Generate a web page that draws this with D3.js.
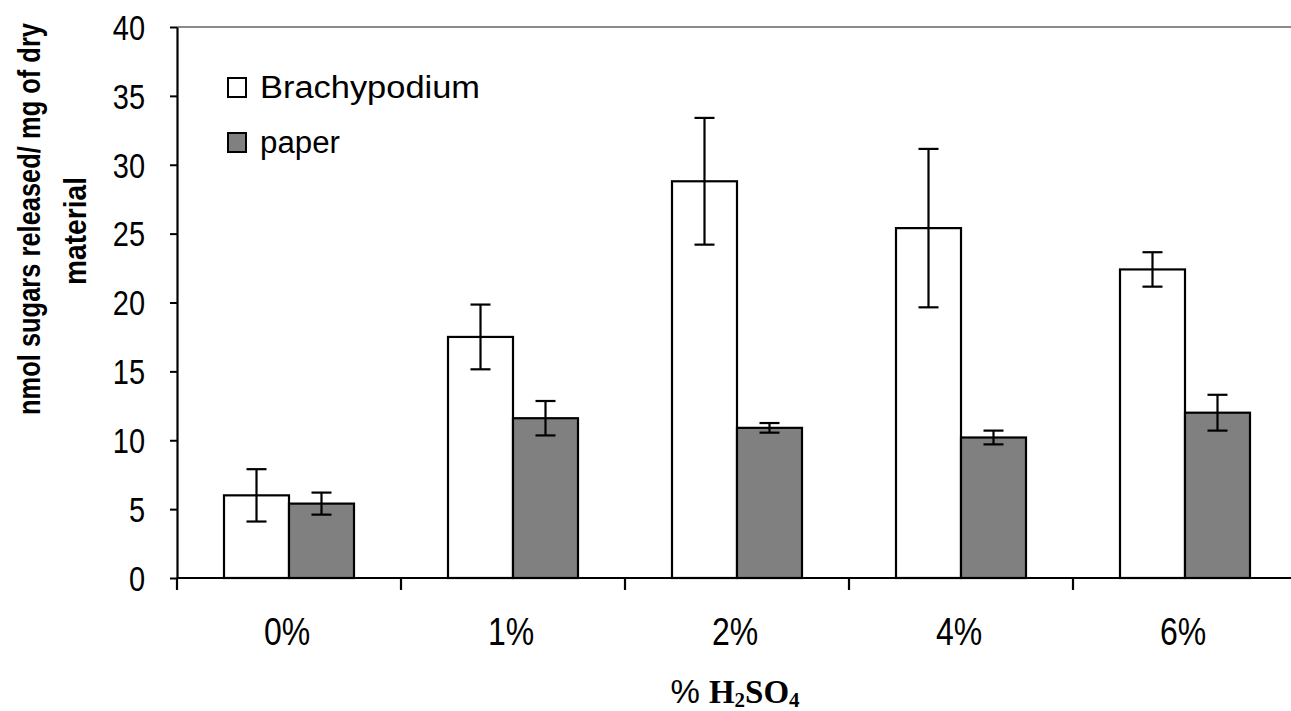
<!DOCTYPE html>
<html><head><meta charset="utf-8">
<script src="https://cdn.jsdelivr.net/npm/d3@7"></script>
<style>body{margin:0;background:#fff}svg{display:block}</style>
</head><body>
<svg id="c" width="1291" height="711"></svg>
<script>
const categories = ["0%", "1%", "2%", "4%", "6%"];
const seriesNames = ["Brachypodium", "paper"];
const brachyValues = [6.0, 17.5, 28.8, 25.4, 22.4];
const brachyErrors = [1.9, 2.35, 4.6, 5.75, 1.25];
const paperValues = [5.4, 11.6, 10.9, 10.2, 12.0];
const paperErrors = [0.8, 1.25, 0.35, 0.5, 1.3];
const yTicks = [0, 5, 10, 15, 20, 25, 30, 35, 40];

const FONT = "'Liberation Sans', Arial, sans-serif";
const svg = d3.select("#c");
const L = 177, R = 1297, T = 27, B = 578;
const x = d3.scaleBand().domain(categories).range([L, R]).paddingInner(0).paddingOuter(0);
const y = d3.scaleLinear().domain([0, 40]).range([B, T]);
const barW = 65;
const fills = ["#ffffff", "#808080"];
const series = [
  {name: seriesNames[0], values: brachyValues, errors: brachyErrors, fill: fills[0]},
  {name: seriesNames[1], values: paperValues, errors: paperErrors, fill: fills[1]}
];

// top frame line
svg.append("line").attr("x1", L).attr("x2", 1291).attr("y1", y(40)).attr("y2", y(40))
  .attr("stroke", "#8a8a8a").attr("stroke-width", 2);

// bars
series.forEach((s, si) => {
  const g = svg.append("g");
  g.selectAll("rect").data(categories).join("rect")
    .attr("x", c => x(c) + x.bandwidth()/2 - barW + si*barW)
    .attr("y", (c, i) => y(s.values[i]))
    .attr("width", barW)
    .attr("height", (c, i) => y(0) - y(s.values[i]))
    .attr("fill", s.fill).attr("stroke", "#000").attr("stroke-width", 2.2);
  const eg = g.selectAll("g.err").data(categories).join("g").attr("class", "err");
  eg.each(function(c, i) {
    const cx = x(c) + x.bandwidth()/2 - barW/2 + si*barW;
    const top = y(s.values[i] + s.errors[i]), bot = y(s.values[i] - s.errors[i]);
    const e = d3.select(this);
    e.append("line").attr("x1", cx).attr("x2", cx).attr("y1", top).attr("y2", bot);
    e.append("line").attr("x1", cx - 10).attr("x2", cx + 10).attr("y1", top).attr("y2", top);
    e.append("line").attr("x1", cx - 10).attr("x2", cx + 10).attr("y1", bot).attr("y2", bot);
    e.selectAll("line").attr("stroke", "#000").attr("stroke-width", 2.2);
  });
});

// y axis
const yAxis = d3.axisLeft(y).tickValues(yTicks).tickSize(7).tickSizeOuter(0).tickPadding(25);
const ya = svg.append("g").attr("transform", `translate(${L},0)`).call(yAxis);
ya.select(".domain").attr("stroke", "#000").attr("stroke-width", 2.2);
ya.selectAll(".tick line").attr("stroke", "#000").attr("stroke-width", 2);
ya.selectAll(".tick text").attr("font-family", FONT)
  .attr("font-size", 29).attr("fill", "#000")
  .attr("dy", "0.36em").attr("transform", "scale(1,1.18)");

// x axis
const xAxis = d3.axisBottom(x).tickSize(0).tickPadding(0);
const xa = svg.append("g").attr("transform", `translate(0,${B})`).call(xAxis);
xa.select(".domain").remove();
xa.selectAll(".tick text").attr("font-family", FONT)
  .attr("font-size", 32).attr("fill", "#000")
  .attr("y", 0).attr("dy", 0).attr("dx", -2)
  .attr("transform", "translate(0,67) scale(1,1.22)");
svg.append("line").attr("x1", L).attr("x2", 1291).attr("y1", B).attr("y2", B)
  .attr("stroke", "#000").attr("stroke-width", 2.2);
// category boundary ticks
const bounds = categories.map(c => x(c)).concat([R]).filter(v => v <= 1291);
svg.append("g").selectAll("line").data(bounds).join("line")
  .attr("x1", d => d).attr("x2", d => d).attr("y1", B).attr("y2", B + 12)
  .attr("stroke", "#000").attr("stroke-width", 2.2);

// legend
const lg = svg.append("g");
const legendLen = [220, 80];
series.forEach((s, i) => {
  const base = 98 + i*55;
  lg.append("rect").attr("x", 228).attr("y", base - 20).attr("width", 18).attr("height", 19)
    .attr("fill", s.fill).attr("stroke", "#000").attr("stroke-width", 2);
  lg.append("text").attr("x", 260).attr("y", base).text(s.name)
    .attr("font-family", FONT).attr("font-size", 31)
    .attr("textLength", legendLen[i]).attr("lengthAdjust", "spacingAndGlyphs")
    .attr("fill", "#000");
});

// y label
const yl = svg.append("text").attr("transform", "rotate(-90)")
  .attr("font-family", FONT)
  .attr("font-weight", "bold").attr("font-size", 31).attr("fill", "#000")
  .attr("text-anchor", "middle");
yl.append("tspan").attr("x", -219).attr("y", 40)
  .attr("textLength", 392).attr("lengthAdjust", "spacingAndGlyphs")
  .text("nmol sugars released/ mg of dry");
yl.append("tspan").attr("x", -231).attr("y", 86)
  .attr("textLength", 108).attr("lengthAdjust", "spacingAndGlyphs")
  .text("material");

// x label
const xl = svg.append("text").attr("x", 735).attr("y", 703).attr("text-anchor", "middle")
  .attr("font-family", "'Liberation Serif', 'Times New Roman', serif")
  .attr("font-weight", "bold").attr("font-size", 33).attr("fill", "#000");
xl.append("tspan").attr("font-family", FONT).attr("font-weight", "normal").text("% ");
xl.append("tspan").text("H");
xl.append("tspan").attr("font-size", 21).attr("dy", 4).text("2");
xl.append("tspan").attr("dy", -4).text("SO");
xl.append("tspan").attr("font-size", 21).attr("dy", 4).text("4");
</script>
</body></html>
